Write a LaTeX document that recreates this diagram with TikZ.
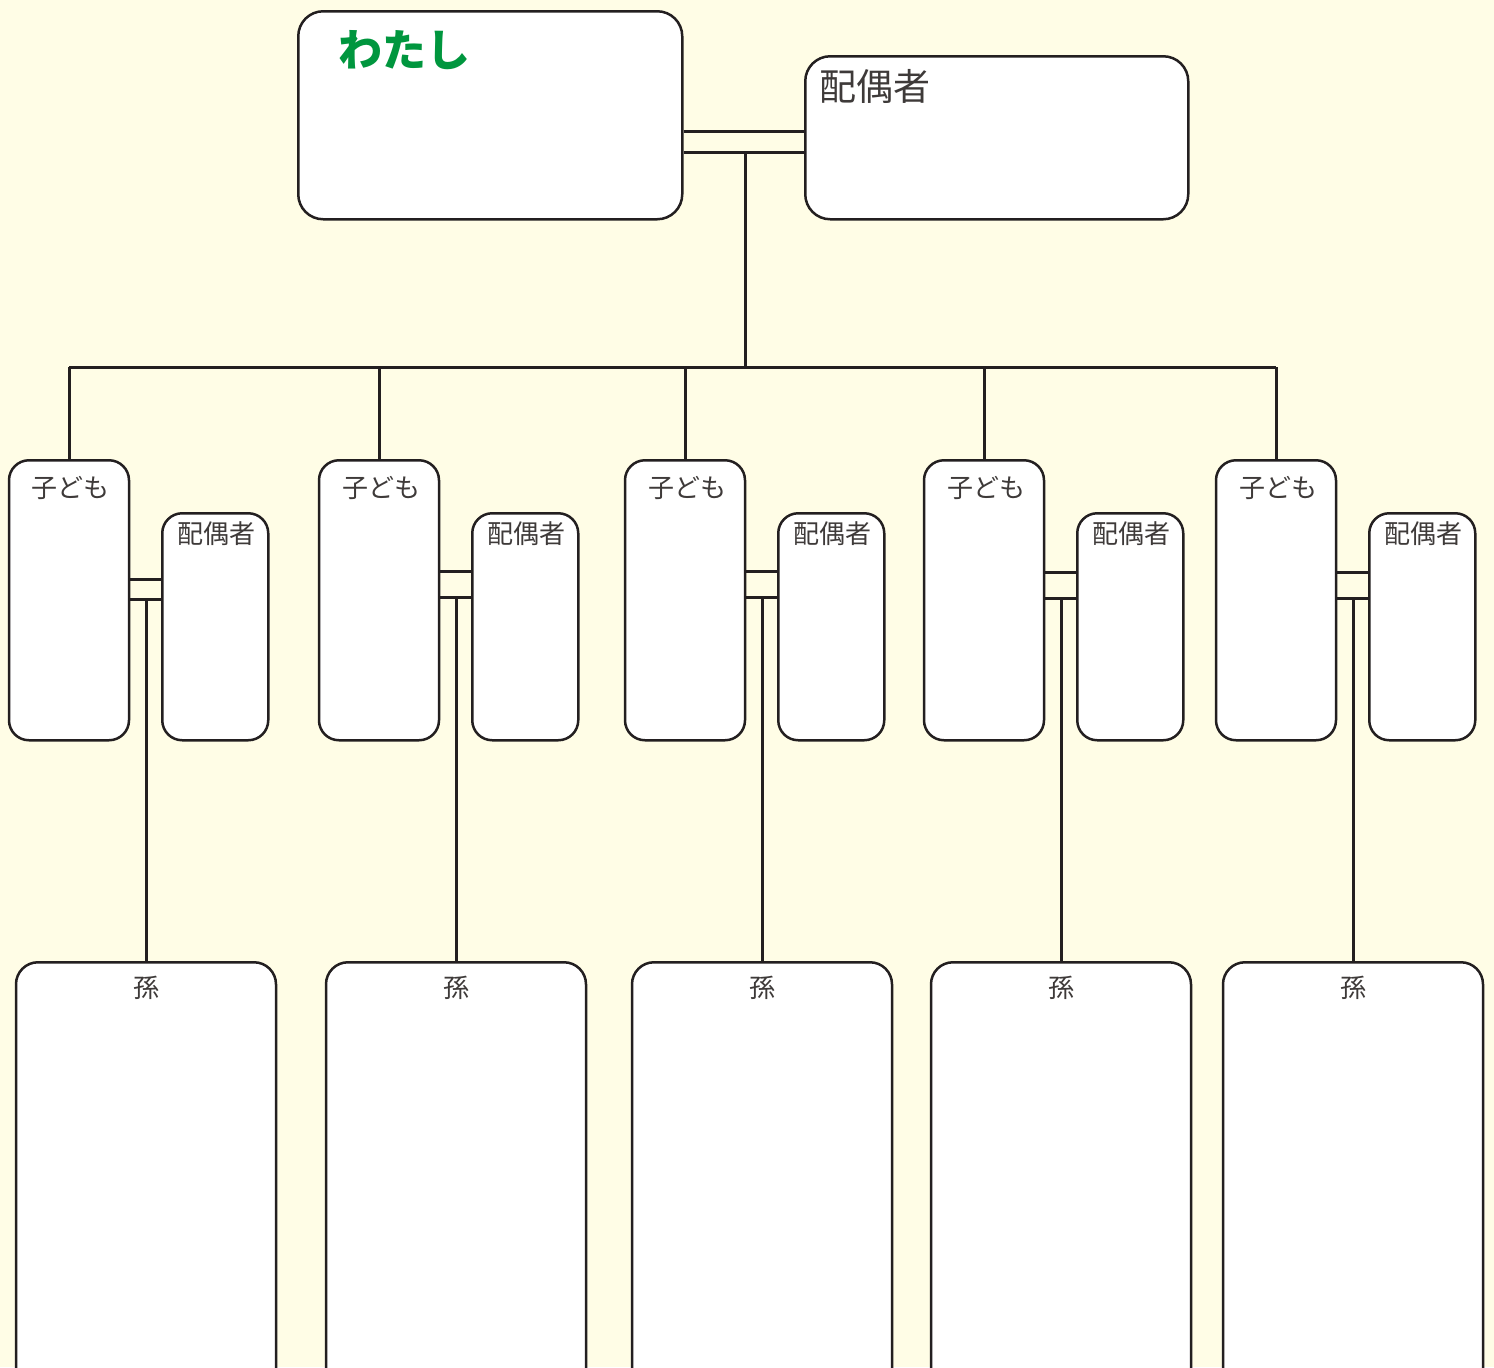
\documentclass[tikz,border=0pt]{standalone}
\usepackage{fontspec}
\setmainfont{Noto Sans CJK JP}
\usetikzlibrary{calc}
\definecolor{cream}{RGB}{255,253,230}
\definecolor{megreen}{RGB}{0,150,62}
\definecolor{tagfg}{RGB}{62,58,57}
\definecolor{ink}{RGB}{35,31,32}
\tikzset{
  card/.style={draw=ink, line width=1.25pt, fill=white, rounded corners=10pt, inner sep=0pt},
  tag/.style={text=tagfg, inner sep=0pt, font=\fontsize{13}{13}\selectfont},
  link/.style={draw=ink, line width=1.5pt},
}
\begin{document}
\begin{tikzpicture}[x=0.5pt,y=-0.5pt]
	\clip (0,0) rectangle (1494,1367);
	\fill[cream] (0,0) rectangle (1494,1367);
	\node[card, rounded corners=12.5pt, minimum width=192pt, minimum height=104pt, anchor=north west] (me) at (297,10) {};
	\node[card, rounded corners=12.5pt, minimum width=191.5pt, minimum height=81.5pt, anchor=north west] (partner) at (804,55) {};
	\node[anchor=west, inner sep=0pt, text=megreen, font=\fontsize{22}{22}\selectfont\bfseries] (metag) at (338,50) {わたし};
	\node[tag, anchor=west, font=\fontsize{18.5}{18.5}\selectfont] (partnertag) at (819,86) {配偶者};
	\draw[link] (me.east |- 0,131) -- (partner.west |- 0,131);
	\draw[link] (me.east |- 0,152) -- (partner.west |- 0,152);
	\coordinate (fork) at (745,152);
	\coordinate (bus) at (745,367);
	\draw[link] (fork) -- (bus);
	\foreach \cx/\ya/\yb [count=\i] in {69/579/599, 379/571/597, 685/571/597, 984/572/598, 1276/572/598} {
		\node[card, minimum width=60pt, minimum height=140pt, anchor=north] (kid\i) at (\cx,459) {};
		\node[tag] (kidtag\i) at ($(kid\i.north)+(2,29)$) {子ども};
		\node[card, minimum width=53pt, minimum height=113.5pt, anchor=north west] (mate\i) at (\cx+92,512) {};
		\node[tag] (matetag\i) at ($(mate\i.north)+(1,22)$) {配偶者};
		\node[card, rounded corners=11pt, minimum width=130pt, minimum height=214.5pt, anchor=north] (grand\i) at (\cx+77,961) {};
		\node[tag] (grandtag\i) at ($(grand\i.north)+(0,27)$) {孫};
		\draw[link] (kid\i.east |- 0,\ya) -- (mate\i.west |- 0,\ya);
		\draw[link] (kid\i.east |- 0,\yb) -- (mate\i.west |- 0,\yb);
		\draw[link] (grand\i.north |- 0,\yb) -- (grand\i.north);
		\draw[link] (kid\i.north |- bus) -- (kid\i.north);
	}
	\draw[link] (kid1.north |- bus) -- (kid5.north |- bus);
\end{tikzpicture}
\end{document}
